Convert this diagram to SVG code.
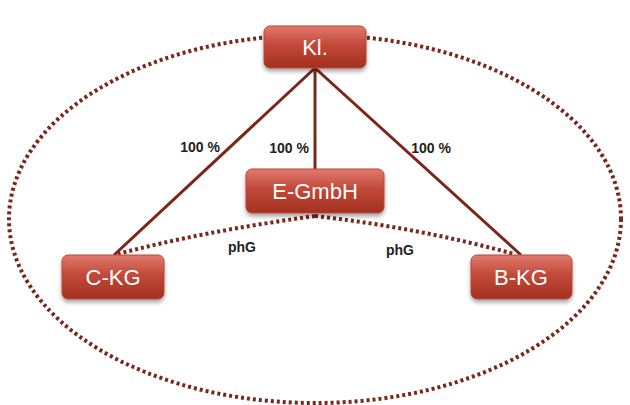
<svg xmlns="http://www.w3.org/2000/svg" width="630" height="405" viewBox="0 0 630 405">
<defs>
<linearGradient id="g" x1="0" y1="0" x2="0" y2="1">
<stop offset="0" stop-color="#e07a6e"/>
<stop offset="0.45" stop-color="#c2493a"/>
<stop offset="1" stop-color="#a3301f"/>
</linearGradient>
<filter id="sh" x="-10%" y="-10%" width="120%" height="140%">
<feGaussianBlur in="SourceAlpha" stdDeviation="2"/>
<feOffset dx="0" dy="3"/>
<feComponentTransfer><feFuncA type="linear" slope="0.35"/></feComponentTransfer>
<feMerge><feMergeNode/><feMergeNode in="SourceGraphic"/></feMerge>
</filter>
</defs>
<style>
.box{fill:url(#g);stroke:#b84636;stroke-width:1;filter:url(#sh)}
.lbl{font-family:"Liberation Sans",Arial,sans-serif;font-size:22px;fill:#ffffff;text-anchor:middle}
.sm{font-family:"Liberation Sans",Arial,sans-serif;font-size:14px;font-weight:bold;fill:#222;text-anchor:middle}
.solid{stroke:#7a2618;stroke-width:3;fill:none}
.dot{stroke:#7a2618;stroke-width:4;fill:none;stroke-dasharray:3 3}
</style>
<ellipse cx="315" cy="219" rx="306" ry="184" fill="none" stroke="#7a2618" stroke-width="4" stroke-dasharray="3 3"/>
<g id="connectors">
<line class="solid" x1="315" y1="68" x2="114" y2="255"/>
<line class="solid" x1="315" y1="68" x2="521" y2="255"/>
<line class="solid" x1="315" y1="68" x2="315" y2="169"/>
<path class="dot" d="M315,216 Q200,232 118,254"/>
<path class="dot" d="M315,216 Q420,228 514,254"/>
</g>
<g id="kl"><rect class="box" x="264" y="26" width="102" height="42" rx="6"/><text class="lbl" x="315" y="55">Kl.</text></g>
<g id="egmbh"><rect class="box" x="246" y="169" width="138" height="44" rx="6"/><text class="lbl" x="315" y="199">E-GmbH</text></g>
<g id="ckg"><rect class="box" x="62" y="255" width="102" height="44" rx="6"/><text class="lbl" x="113" y="285">C-KG</text></g>
<g id="bkg"><rect class="box" x="471" y="255" width="101" height="44" rx="6"/><text class="lbl" x="521" y="285">B-KG</text></g>
<g id="labels">
<text class="sm" x="200" y="152">100 %</text>
<text class="sm" x="289" y="153">100 %</text>
<text class="sm" x="431" y="153">100 %</text>
<text class="sm" x="242" y="252">phG</text>
<text class="sm" x="400" y="255">phG</text>
</g>
</svg>
